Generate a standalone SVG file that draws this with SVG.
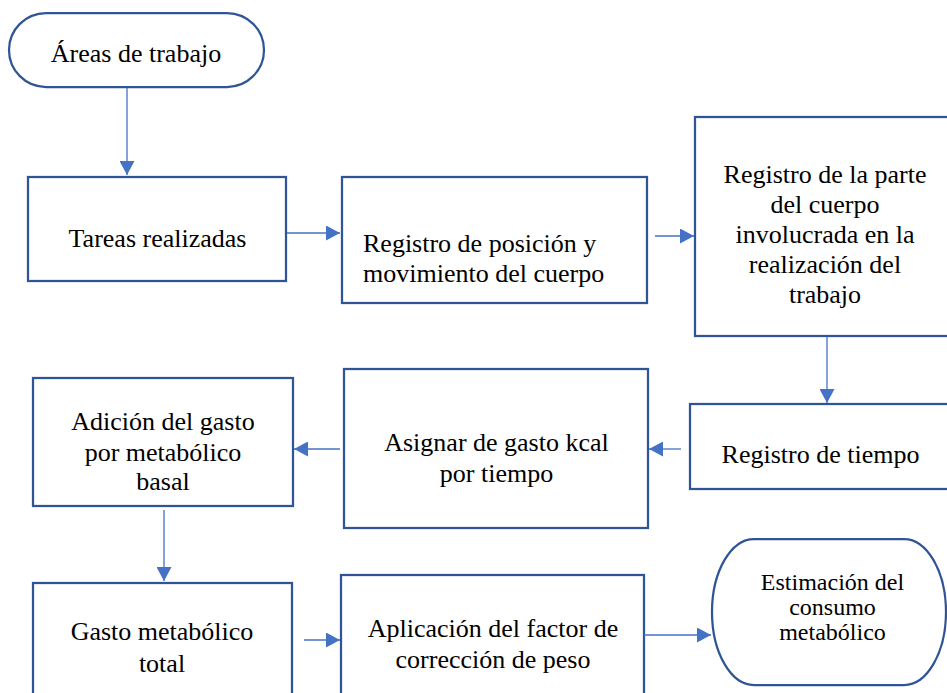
<svg xmlns="http://www.w3.org/2000/svg" width="947" height="693" viewBox="0 0 947 693">
<style>
.box{fill:#fff;stroke:#2F5597;stroke-width:2.25}
.t{font-family:'Liberation Serif','Times New Roman',Tinos,'DejaVu Serif',serif;font-size:26px;fill:#000;text-anchor:middle}
.s{text-anchor:start}
.e{font-size:24px}
.c{fill:none;stroke:#4472C4;stroke-width:1.3}
</style>
<defs>
<marker id="ah" markerUnits="userSpaceOnUse" markerWidth="15" markerHeight="15" refX="14" refY="7.5" orient="auto">
<path d="M0,0 L14,7.5 L0,15 z" fill="#4472C4"/>
</marker>
</defs>
<rect width="947" height="693" fill="#fff"/>
<g id="n1"><rect class="box" x="9" y="13" width="255" height="74" rx="37"/><text class="t" font-family="Liberation Serif, serif" x="136" y="62">Áreas de trabajo</text></g>
<g id="n2"><rect class="box" x="28" y="177" width="258" height="104"/><text class="t" font-family="Liberation Serif, serif" x="157.5" y="247">Tareas realizadas</text></g>
<g id="n3"><rect class="box" x="342" y="177" width="305" height="126"/><text class="t s" font-family="Liberation Serif, serif" x="363" y="252">Registro de posición y</text><text class="t s" font-family="Liberation Serif, serif" x="363" y="282">movimiento del cuerpo</text></g>
<g id="n4"><rect class="box" x="695" y="117" width="260" height="219"/><text class="t" font-family="Liberation Serif, serif" x="825" y="183">Registro de la parte</text><text class="t" font-family="Liberation Serif, serif" x="825" y="213">del cuerpo</text><text class="t" font-family="Liberation Serif, serif" x="825" y="243">involucrada en la</text><text class="t" font-family="Liberation Serif, serif" x="825" y="273">realización del</text><text class="t" font-family="Liberation Serif, serif" x="825" y="303">trabajo</text></g>
<g id="n5"><rect class="box" x="690" y="404" width="265" height="85"/><text class="t" font-family="Liberation Serif, serif" x="820.5" y="463">Registro de tiempo</text></g>
<g id="n6"><rect class="box" x="344" y="369" width="304" height="159"/><text class="t" font-family="Liberation Serif, serif" x="496.5" y="451">Asignar de gasto kcal</text><text class="t" font-family="Liberation Serif, serif" x="496.5" y="482">por tiempo</text></g>
<g id="n7"><rect class="box" x="33" y="378" width="260" height="128"/><text class="t" font-family="Liberation Serif, serif" x="163" y="430">Adición del gasto</text><text class="t" font-family="Liberation Serif, serif" x="163" y="461">por metabólico</text><text class="t" font-family="Liberation Serif, serif" x="163" y="490">basal</text></g>
<g id="n8"><rect class="box" x="33" y="583" width="259" height="130"/><text class="t" font-family="Liberation Serif, serif" x="162" y="640">Gasto metabólico</text><text class="t" font-family="Liberation Serif, serif" x="162" y="672">total</text></g>
<g id="n9"><rect class="box" x="341" y="575" width="303" height="138"/><text class="t" font-family="Liberation Serif, serif" x="493" y="637">Aplicación del factor de</text><text class="t" font-family="Liberation Serif, serif" x="493" y="668">corrección de peso</text></g>
<g id="n10"><rect class="box" x="712" y="539" width="234" height="146" rx="42" ry="73"/><text class="t e" font-family="Liberation Serif, serif" x="832.5" y="590">Estimación del</text><text class="t e" font-family="Liberation Serif, serif" x="832.5" y="615">consumo</text><text class="t e" font-family="Liberation Serif, serif" x="832.5" y="640">metabólico</text></g>
<g id="connectors">
<path class="c" d="M127,88 V175" marker-end="url(#ah)"/>
<path class="c" d="M287,233 H340" marker-end="url(#ah)"/>
<path class="c" d="M655,236 H694" marker-end="url(#ah)"/>
<path class="c" d="M827,337 V403" marker-end="url(#ah)"/>
<path class="c" d="M681,449 H649" marker-end="url(#ah)"/>
<path class="c" d="M340,449 H294" marker-end="url(#ah)"/>
<path class="c" d="M164,510 V581" marker-end="url(#ah)"/>
<path class="c" d="M304,640 H340" marker-end="url(#ah)"/>
<path class="c" d="M644,635 H711" marker-end="url(#ah)"/>
</g>
</svg>
